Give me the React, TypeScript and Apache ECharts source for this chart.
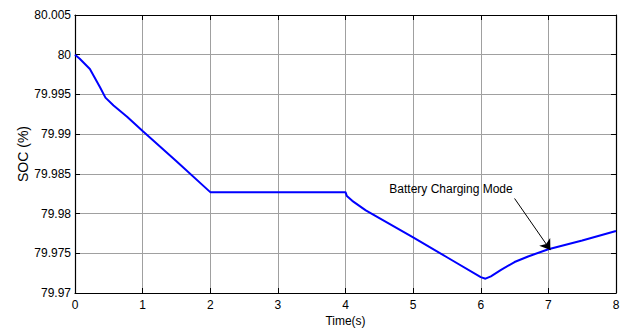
import React, { useEffect, useRef } from "react";
import * as echarts from "echarts";

const timeS = [0, 0.07, 0.22, 0.37, 0.45, 0.57, 0.77, 1, 1.5, 2, 3, 4, 4.02, 4.1, 4.3, 5, 5.5, 6, 6.07, 6.15, 6.3, 6.5, 6.7, 7, 7.5, 8];
const soc = [80.0, 79.9995, 79.9982, 79.9959, 79.9946, 79.9936, 79.9922, 79.9904, 79.9866, 79.9827, 79.9827, 79.9827, 79.9822, 79.9816, 79.9804, 79.977, 79.9745, 79.972, 79.9718, 79.9721, 79.9729, 79.9739, 79.9746, 79.9755, 79.9766, 79.9778];
const xTicks = { min: 0, max: 8, interval: 1 };
const yTicks = { min: 79.97, max: 80.005, interval: 0.005 };
const annotationText = "Battery Charging Mode";
const annotationTextAt = [5.56, 79.9831];
const arrowFrom = [6.5, 79.9819];
const arrowTo = [7.03, 79.9754];

const FONT = "'Liberation Sans', Arial, Helvetica, sans-serif";

export default function App() {
  const ref = useRef<HTMLDivElement>(null);
  useEffect(() => {
    if (!ref.current) return;
    const chart = echarts.init(ref.current, undefined, { renderer: "svg" });
    const data = timeS.map((t, i) => [t, soc[i]]);
    const tick = { show: true, inside: true, length: 5, lineStyle: { color: "#000", width: 1 } };
    const axisLine = { show: true, onZero: false, lineStyle: { color: "#000", width: 1.2 } };
    chart.setOption({
      animation: false,
      textStyle: { fontFamily: FONT },
      grid: { left: 75, right: 16, top: 15, bottom: 39, containLabel: false },
      xAxis: [
        {
          type: "value",
          position: "bottom",
          ...xTicks,
          name: "Time(s)",
          nameLocation: "middle",
          nameGap: 22,
          nameMoveOverlap: false,
          nameTextStyle: { color: "#000", fontSize: 12, fontFamily: FONT },
          axisLine,
          axisTick: tick,
          axisLabel: { color: "#000", fontSize: 12, fontFamily: FONT, margin: 6 },
          splitLine: { show: true, lineStyle: { color: "#a0a0a0", width: 1 } },
        },
        {
          type: "value",
          position: "top",
          ...xTicks,
          axisLine,
          axisTick: tick,
          axisLabel: { show: false },
          splitLine: { show: false },
        },
      ],
      yAxis: [
        {
          type: "value",
          position: "left",
          ...yTicks,
          name: "SOC (%)",
          nameLocation: "middle",
          nameGap: 45,
          nameMoveOverlap: false,
          nameTextStyle: { color: "#000", fontSize: 14, fontFamily: FONT },
          axisLine,
          axisTick: tick,
          axisLabel: {
            color: "#000",
            fontSize: 12,
            fontFamily: FONT,
            margin: 4,
            formatter: (v: number) => String(parseFloat(v.toFixed(3))),
          },
          splitLine: { show: true, lineStyle: { color: "#a0a0a0", width: 1 } },
        },
        {
          type: "value",
          position: "right",
          ...yTicks,
          axisLine,
          axisTick: tick,
          axisLabel: { show: false },
          splitLine: { show: false },
        },
      ],
      series: [
        {
          type: "line",
          xAxisIndex: 0,
          yAxisIndex: 0,
          data,
          showSymbol: false,
          lineStyle: { color: "#0000ff", width: 2 },
          itemStyle: { color: "#0000ff" },
          markLine: {
            silent: true,
            symbol: ["none", "arrow"],
            symbolSize: 10,
            label: { show: false },
            lineStyle: { color: "#000", width: 1, type: "solid" },
            data: [[{ coord: arrowFrom }, { coord: arrowTo }]],
          },
          markPoint: {
            silent: true,
            symbol: "circle",
            symbolSize: 0,
            label: {
              show: true,
              position: "inside",
              formatter: annotationText,
              color: "#000",
              fontSize: 12,
              fontFamily: FONT,
            },
            data: [{ coord: annotationTextAt }],
          },
        },
      ],
    });
    return () => chart.dispose();
  }, []);
  return <div ref={ref} style={{ width: 632, height: 332, position: "absolute", left: 0, top: 0 }} />;
}
